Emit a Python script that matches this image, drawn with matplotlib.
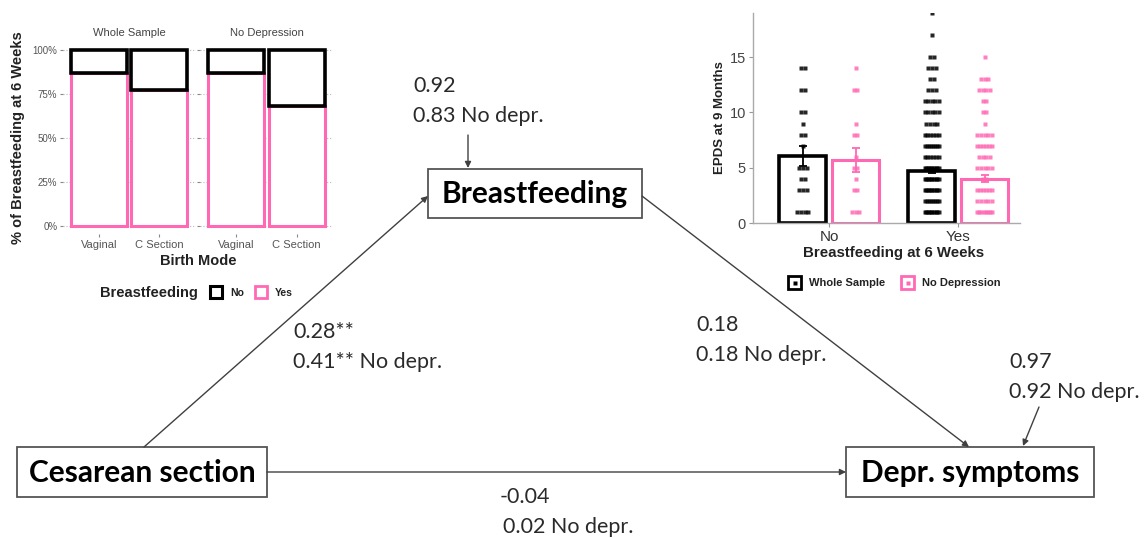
import numpy as np
import matplotlib.pyplot as plt
from matplotlib.patches import Rectangle

W, H = 1145, 538
PINK = '#ff69b4'
LINE = '#404040'
TEXT = '#2a2a2a'
DIAG_FONT = 'Lato'
INSET_FONT = 'Liberation Sans'

# left inset: share of mothers breastfeeding at 6 weeks
facets = ['Whole Sample', 'No Depression']
birth_modes = ['Vaginal', 'C Section']
bf_yes = {'Whole Sample': [0.87, 0.77], 'No Depression': [0.87, 0.68]}
pct_ticks = [0, 0.25, 0.5, 0.75, 1.0]
pct_labels = ['0%', '25%', '50%', '75%', '100%']

# right inset: EPDS at 9 months by breastfeeding
bf_groups = ['No', 'Yes']
samples = ['Whole Sample', 'No Depression']
epds_mean = {'Whole Sample': [6.1, 4.7], 'No Depression': [5.7, 4.0]}
epds_se = {'Whole Sample': [0.9, 0.2], 'No Depression': [1.1, 0.3]}
# individual scores: EPDS value -> number of mothers
epds_points = {
    ('Whole Sample', 'No'): {14: 2, 12: 2, 10: 2, 9: 1, 8: 2, 7: 1, 5: 3, 4: 2, 3: 3, 1: 4},
    ('No Depression', 'No'): {14: 1, 12: 2, 9: 1, 8: 2, 6: 1, 5: 2, 4: 1, 3: 2, 1: 3},
    ('Whole Sample', 'Yes'): {19: 1, 17: 1, 15: 2, 14: 3, 13: 2, 12: 3, 11: 5, 10: 5, 9: 4,
                              8: 6, 7: 8, 6: 6, 5: 10, 4: 10, 3: 10, 2: 8, 1: 10},
    ('No Depression', 'Yes'): {15: 1, 13: 3, 12: 4, 11: 2, 10: 2, 9: 1, 8: 5, 7: 6, 6: 4,
                               5: 5, 4: 2, 3: 6, 2: 5, 1: 8},
}

# path model
nodes = ['Breastfeeding', 'Cesarean section', 'Depr. symptoms']
paths = [('Cesarean section', 'Breastfeeding', '0.28**', '0.41**'),
         ('Breastfeeding', 'Depr. symptoms', '0.18', '0.18'),
         ('Cesarean section', 'Depr. symptoms', '-0.04', '0.02')]
residuals = {'Breastfeeding': ('0.92', '0.83'), 'Depr. symptoms': ('0.97', '0.92')}

# layout (pixels, origin top-left)
node_box = {'Breastfeeding': (428, 169, 642, 218),
            'Cesarean section': (17, 447, 267, 497),
            'Depr. symptoms': (846, 447, 1094, 497)}
path_ends = {('Cesarean section', 'Breastfeeding'): ((144, 447), (428, 196)),
             ('Breastfeeding', 'Depr. symptoms'): ((642, 196), (969, 447)),
             ('Cesarean section', 'Depr. symptoms'): ((267, 472), (846, 472))}
path_label = {('Cesarean section', 'Breastfeeding'): (293, 332, 0),
              ('Breastfeeding', 'Depr. symptoms'): (696, 325, 0),
              ('Cesarean section', 'Depr. symptoms'): (500, 497, 3)}
resid_arrow = {'Breastfeeding': ((468, 135), (468, 168)),
               'Depr. symptoms': ((1039, 407), (1023, 446))}
resid_label = {'Breastfeeding': (413, 86), 'Depr. symptoms': (1009, 362)}


def px_axes(l, t, r, b):
    return fig.add_axes([l / W, 1 - b / H, (r - l) / W, (b - t) / H])


def coef_text(x, y, whole, nodep, indent=0):
    ax.text(x, y, whole, ha='left', va='center', fontsize=15.5, family=DIAG_FONT, color=TEXT)
    ax.text(x + indent, y + 30, f'{nodep} No depr.', ha='left', va='center', fontsize=15.5,
            family=DIAG_FONT, color=TEXT)


fig = plt.figure(figsize=(W / 100, H / 100), dpi=100)
ax = fig.add_axes([0, 0, 1, 1])
ax.set_xlim(0, W)
ax.set_ylim(H, 0)
ax.axis('off')

# ---- path diagram ----
for name in nodes:
    l, t, r, b = node_box[name]
    ax.add_patch(Rectangle((l, t), r - l, b - t, fill=False, ec='#555555', lw=1.3))
    ax.text((l + r) / 2, (t + b) / 2 + 1, name, ha='center', va='center',
            fontsize=21.5, fontweight='bold', family=DIAG_FONT, color='black')

arrow_kw = dict(arrowstyle='-|>', color=LINE, lw=1.0, mutation_scale=9, shrinkA=0, shrinkB=0)
for src, dst, whole, nodep in paths:
    start, end = path_ends[(src, dst)]
    ax.annotate('', xy=end, xytext=start, arrowprops=arrow_kw)
    x, y, indent = path_label[(src, dst)]
    coef_text(x, y, whole, nodep, indent)

for name, (whole, nodep) in residuals.items():
    start, end = resid_arrow[name]
    ax.annotate('', xy=end, xytext=start, arrowprops=arrow_kw)
    x, y = resid_label[name]
    coef_text(x, y, whole, nodep)

# ---- left inset: facetted stacked bars ----
facet_px = [(63, 42, 195, 234), (200, 42, 333, 234)]
xpos = np.arange(1, len(birth_modes) + 1)
for i, facet in enumerate(facets):
    fa = px_axes(*facet_px[i])
    fa.set_facecolor('none')
    yes = np.array(bf_yes[facet])
    fa.bar(xpos, yes, width=0.92, color='white', edgecolor=PINK, lw=2.2, zorder=2)
    fa.bar(xpos, 1 - yes, bottom=yes, width=0.92, color='white', edgecolor='black', lw=2.6, zorder=3)
    fa.set_xlim(0.4, 2.6)
    fa.set_ylim(-0.045, 1.045)
    fa.set_yticks(pct_ticks)
    fa.grid(axis='y', ls=':', color='#bbbbbb', lw=0.8, zorder=0)
    fa.set_xticks(xpos)
    fa.set_xticklabels(birth_modes, family=INSET_FONT, fontsize=8, color='#555555')
    if i == 0:
        fa.set_yticklabels(pct_labels, family=INSET_FONT, fontsize=7, color='#555555')
    else:
        fa.tick_params(axis='y', length=0, labelleft=False)
    fa.tick_params(length=2, color='#888888', pad=2)
    for s in fa.spines.values():
        s.set_visible(False)
    l, t, r, b = facet_px[i]
    ax.text((l + r) / 2, 33, facet, ha='center', va='center', family=INSET_FONT,
            fontsize=8, color='#444444')

ax.text(18, 138, '% of Breastfeeding at 6 Weeks', rotation=90, ha='center', va='center',
        family=INSET_FONT, fontsize=10.5, fontweight='bold', color='#222222')
ax.text(198, 261, 'Birth Mode', ha='center', va='center', family=INSET_FONT,
        fontsize=10.5, fontweight='bold', color='#222222')
ax.text(100, 293, 'Breastfeeding', ha='left', va='center', family=INSET_FONT,
        fontsize=10.5, fontweight='bold', color='#222222')
ax.add_patch(Rectangle((210, 286), 12, 12, fill=False, ec='black', lw=2.2))
ax.text(230, 293, 'No', ha='left', va='center', family=INSET_FONT, fontsize=7.5,
        fontweight='bold', color='#222222')
ax.add_patch(Rectangle((255, 286), 12, 12, fill=False, ec=PINK, lw=2.0))
ax.text(275, 293, 'Yes', ha='left', va='center', family=INSET_FONT, fontsize=7.5,
        fontweight='bold', color='#222222')

# ---- right inset: EPDS bars with individual scores ----
ra = px_axes(753, 13, 1020, 223)
ra.set_facecolor('none')
gpos = np.arange(1, len(bf_groups) + 1)
offsets = {'Whole Sample': -0.205, 'No Depression': 0.205}
colors = {'Whole Sample': 'black', 'No Depression': PINK}
for s in samples:
    c = colors[s]
    xs = gpos + offsets[s]
    ra.bar(xs, epds_mean[s], width=0.36, color='white', edgecolor=c,
           lw=2.6 if s == 'Whole Sample' else 2.2, zorder=2)
    for j, g in enumerate(bf_groups):
        for val, n in epds_points[(s, g)].items():
            spread = min(0.03 * (n - 1), 0.11)
            dx = np.linspace(-spread / 2, spread / 2, n)
            ra.plot(xs[j] + dx, np.full(n, val), 's', ms=2.6, color=c, mec='none',
                    alpha=0.85, zorder=3)
    ra.errorbar(xs, epds_mean[s], yerr=epds_se[s], fmt='none', ecolor=c, elinewidth=1.3,
                capsize=3, capthick=1.3, zorder=4)

ra.set_xlim(0.41, 2.48)
ra.set_ylim(0, 19)
ra.set_yticks([0, 5, 10, 15])
ra.set_yticklabels(['0', '5', '10', '15'], family=INSET_FONT, fontsize=10.5, color='#444444')
ra.set_xticks(gpos)
ra.set_xticklabels(bf_groups, family=INSET_FONT, fontsize=11, color='#333333')
ra.tick_params(length=3, color='#999999', pad=2)
for side in ['top', 'right']:
    ra.spines[side].set_visible(False)
for side in ['left', 'bottom']:
    ra.spines[side].set_color('#aaaaaa')
    ra.spines[side].set_linewidth(1.0)

ax.text(720, 118, 'EPDS at 9 Months', rotation=90, ha='center', va='center',
        family=INSET_FONT, fontsize=9.5, fontweight='bold', color='#222222')
ax.text(894, 253, 'Breastfeeding at 6 Weeks', ha='center', va='center',
        family=INSET_FONT, fontsize=10.8, fontweight='bold', color='#222222')
for (kx, label), s in zip([(788, 'Whole Sample'), (901, 'No Depression')], samples):
    c = colors[s]
    ax.add_patch(Rectangle((kx, 276), 13, 13, fill=False, ec=c, lw=2.0))
    ax.plot(kx + 6.5, 282.5, 's', ms=2.5, color=c, mec='none')
    ax.text(kx + 21, 283, label, ha='left', va='center', family=INSET_FONT,
            fontsize=8, fontweight='bold', color='#222222')

fig.savefig('out.png', dpi=100)
